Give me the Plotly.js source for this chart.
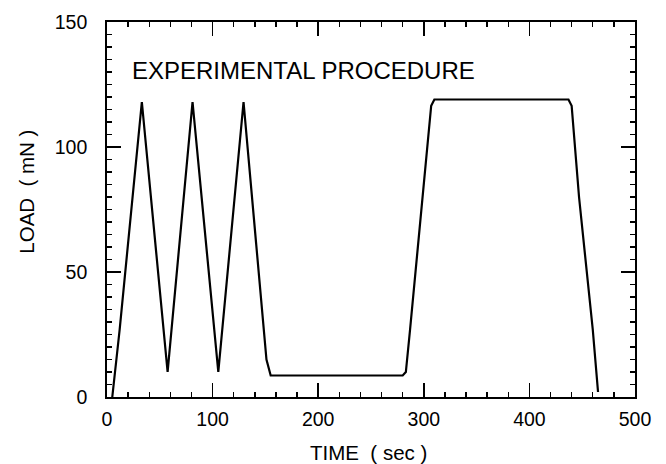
<!DOCTYPE html>
<html>
<head>
<meta charset="utf-8">
<script src="https://cdn.plot.ly/plotly-3.0.1.min.js"></script>
<style>html,body{margin:0;padding:0;background:#fff;}#chart{width:666px;height:464px;}</style>
</head>
<body>
<div id="chart"></div>
<script>
const timeSec = [5, 12, 33, 57.4, 81, 105.4, 129.3, 151, 155, 280, 283, 287, 307, 310, 437, 440, 447, 460, 465];
const loadMN  = [0, 27, 118, 10, 118, 10, 118, 15, 8.6, 8.6, 10, 27, 116.5, 119, 119, 116.5, 80, 27, 2];
const xTicks = [0, 100, 200, 300, 400, 500];
const yTicks = [0, 50, 100, 150];
const annotationText = "EXPERIMENTAL PROCEDURE";
const xTitle = "TIME  ( sec )";
const yTitle = "LOAD  ( mN )";

const font = "Liberation Sans, Arial, Helvetica, sans-serif";

const trace = {
  x: timeSec, y: loadMN, type: 'scatter', mode: 'lines',
  line: {color: '#000', width: 2.2, shape: 'linear'},
  hoverinfo: 'skip'
};

const axisCommon = {
  showgrid: false, zeroline: false, showline: true, linecolor: '#000', linewidth: 1.8,
  mirror: 'allticks', ticks: 'inside', ticklen: 14, tickwidth: 1.6, tickcolor: '#000',
  tickfont: {family: font, size: 19.5, color: '#000'}
};

const layout = {
  width: 666, height: 464,
  margin: {l: 107, r: 31, t: 22, b: 67},
  paper_bgcolor: '#fff', plot_bgcolor: '#fff',
  showlegend: false,
  xaxis: Object.assign({}, axisCommon, {
    range: [0, 500], tickmode: 'array', tickvals: xTicks, ticktext: xTicks.map(String),
    minor: {dtick: 20, ticks: 'inside', ticklen: 5, tickwidth: 1.4, tickcolor: '#000', showgrid: false},
    ticklabelstandoff: 4
  }),
  yaxis: Object.assign({}, axisCommon, {
    range: [0, 150], tickmode: 'array', tickvals: yTicks, ticktext: yTicks.map(String),
    minor: {dtick: 5, ticks: 'inside', ticklen: 5, tickwidth: 1.4, tickcolor: '#000', showgrid: false},
    ticklabelstandoff: 14
  }),
  annotations: [{
    text: annotationText, xref: 'paper', yref: 'paper', x: 0.043, y: 0.872,
    xanchor: 'left', yanchor: 'middle', showarrow: false,
    font: {family: font, size: 24, color: '#000'}
  }, {
    text: xTitle, xref: 'paper', yref: 'paper', x: 0.496, y: -0.147,
    xanchor: 'center', yanchor: 'middle', showarrow: false,
    font: {family: font, size: 20.5, color: '#000'}
  }, {
    text: yTitle, xref: 'paper', yref: 'paper', x: -0.153, y: 0.548, textangle: -90,
    xanchor: 'center', yanchor: 'middle', showarrow: false,
    font: {family: font, size: 20.5, color: '#000'}
  }]
};

Plotly.newPlot('chart', [trace], layout, {staticPlot: true, displayModeBar: false});
</script>
</body>
</html>
